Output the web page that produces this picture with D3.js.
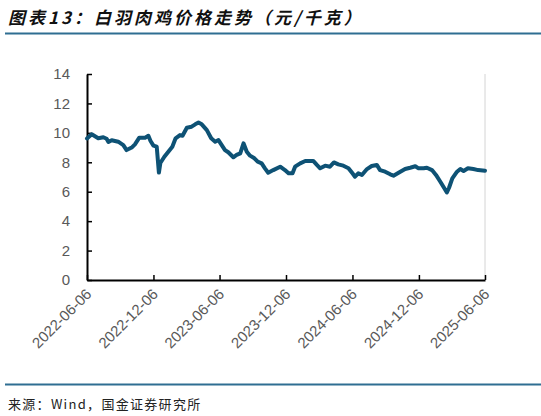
<!DOCTYPE html>
<html><head><meta charset="utf-8">
<script src="https://cdn.jsdelivr.net/npm/d3@7/dist/d3.min.js"></script>
<style>
html,body{margin:0;padding:0;background:#fff;}
svg{display:block;}
</style></head>
<body>
<svg id="chart" width="541" height="416"></svg>
<script>
const titleText = "图表13：白羽肉鸡价格走势（元/千克）";
const sourceText = "来源：Wind，国金证券研究所";
const yTicks = [0, 2, 4, 6, 8, 10, 12, 14];
const xTickLabels = ["2022-06-06","2022-12-06","2023-06-06","2023-12-06","2024-06-06","2024-12-06","2025-06-06"];
const dates = ["2022-06-06","2022-06-19","2022-07-07","2022-07-21","2022-07-30","2022-08-04","2022-08-13","2022-08-31","2022-09-14","2022-09-23","2022-10-07","2022-10-16","2022-10-28","2022-11-13","2022-11-22","2022-11-28","2022-12-06","2022-12-15","2022-12-21","2022-12-25","2023-01-05","2023-01-16","2023-01-27","2023-02-05","2023-02-17","2023-02-24","2023-03-08","2023-03-21","2023-03-31","2023-04-09","2023-04-18","2023-05-02","2023-05-14","2023-05-25","2023-06-03","2023-06-12","2023-06-21","2023-06-30","2023-07-14","2023-07-23","2023-08-02","2023-08-11","2023-08-20","2023-08-29","2023-09-10","2023-09-19","2023-09-30","2023-10-09","2023-10-18","2023-11-01","2023-11-20","2023-12-03","2023-12-13","2023-12-24","2023-12-31","2024-01-14","2024-01-28","2024-02-19","2024-02-29","2024-03-09","2024-03-23","2024-04-05","2024-04-16","2024-04-28","2024-05-12","2024-05-26","2024-06-06","2024-06-13","2024-06-22","2024-07-02","2024-07-16","2024-07-29","2024-08-12","2024-08-21","2024-09-04","2024-09-18","2024-09-27","2024-10-11","2024-10-29","2024-11-12","2024-11-26","2024-12-05","2024-12-19","2024-12-28","2025-01-11","2025-01-22","2025-02-03","2025-02-14","2025-02-21","2025-02-27","2025-03-08","2025-03-21","2025-03-30","2025-04-08","2025-04-20","2025-05-05","2025-05-18","2025-06-06"];
const prices = [9.62,9.9,9.63,9.7,9.6,9.38,9.5,9.4,9.17,8.83,9.0,9.22,9.67,9.67,9.8,9.45,9.13,9.06,7.3,7.95,8.38,8.72,9.06,9.63,9.85,9.8,10.35,10.42,10.58,10.7,10.58,10.19,9.63,9.4,9.51,9.17,8.83,8.68,8.34,8.5,8.61,9.29,8.72,8.45,8.27,8.04,7.93,7.59,7.29,7.47,7.7,7.47,7.25,7.25,7.7,7.93,8.09,8.09,7.82,7.59,7.77,7.7,7.99,7.86,7.77,7.6,7.25,7.02,7.25,7.14,7.54,7.75,7.82,7.47,7.36,7.18,7.09,7.29,7.54,7.63,7.73,7.59,7.59,7.63,7.47,7.14,6.68,6.23,5.95,6.27,6.91,7.36,7.54,7.41,7.59,7.54,7.47,7.43];

(function(){
const parse = d3.timeParse("%Y-%m-%d");
const data = dates.map((d, i) => ({date: parse(d), value: prices[i]}));

const svg = d3.select("#chart");
const mLeft = 87, mRight = 485, mTop = 74, mBottom = 280;

const x = d3.scaleTime().domain([parse(xTickLabels[0]), parse(xTickLabels[xTickLabels.length-1])]).range([mLeft, mRight]);
const y = d3.scaleLinear().domain([0, 14]).range([mBottom, mTop]);

// title
svg.append("text").attr("x", 8).attr("y", 24)
  .attr("font-family", "'Noto Sans CJK SC', sans-serif")
  .attr("font-size", 17).attr("font-weight", "bold").attr("font-style", "italic")
  .attr("letter-spacing", 3).attr("fill", "#111")
  .text(titleText);
svg.append("line").attr("x1", 5).attr("x2", 541).attr("y1", 33.5).attr("y2", 33.5)
  .attr("stroke", "#2f6e92").attr("stroke-width", 2);

// right border
svg.append("line").attr("x1", mRight).attr("x2", mRight).attr("y1", mTop).attr("y2", mBottom)
  .attr("stroke", "#d4d4d4").attr("stroke-width", 1);

// y axis
const yAxis = svg.append("g").attr("transform", `translate(${mLeft},0)`)
  .call(d3.axisLeft(y).tickValues(yTicks).tickSizeInner(-5).tickSizeOuter(0).tickPadding(17));
yAxis.select(".domain").attr("stroke", "#000").attr("stroke-width", 2);
yAxis.selectAll(".tick line").attr("stroke", "#000").attr("stroke-width", 1.5);
yAxis.selectAll(".tick text").attr("font-family", "'Liberation Sans', Arial, sans-serif")
  .attr("font-size", 15).attr("fill", "#595959");

// x axis
const xAxis = svg.append("g").attr("transform", `translate(0,${mBottom})`)
  .call(d3.axisBottom(x).tickValues(xTickLabels.map(parse)).tickFormat(d3.timeFormat("%Y-%m-%d"))
    .tickSizeInner(-5).tickSizeOuter(0));
xAxis.select(".domain").attr("stroke", "#000").attr("stroke-width", 2);
xAxis.selectAll(".tick line").attr("stroke", "#000").attr("stroke-width", 1.5);
xAxis.selectAll(".tick text")
  .attr("font-family", "'Liberation Sans', Arial, sans-serif")
  .attr("font-size", 15).attr("fill", "#595959")
  .attr("text-anchor", "end").attr("dy", null).attr("y", null)
  .attr("transform", "translate(5,15) rotate(-45)");

// line
const line = d3.line().x(d => x(d.date)).y(d => y(d.value)).curve(d3.curveLinear);
svg.append("path").datum(data).attr("d", line)
  .attr("fill", "none").attr("stroke", "#0e5275").attr("stroke-width", 4)
  .attr("stroke-linejoin", "round").attr("stroke-linecap", "round");

// source
svg.append("line").attr("x1", 5).attr("x2", 541).attr("y1", 384.5).attr("y2", 384.5)
  .attr("stroke", "#2f6e92").attr("stroke-width", 2);
svg.append("text").attr("x", 8).attr("y", 409)
  .attr("font-family", "'Noto Sans CJK SC', sans-serif")
  .attr("font-size", 13).attr("letter-spacing", 1.3).attr("fill", "#222")
  .text(sourceText);
})();
</script>
</body></html>
